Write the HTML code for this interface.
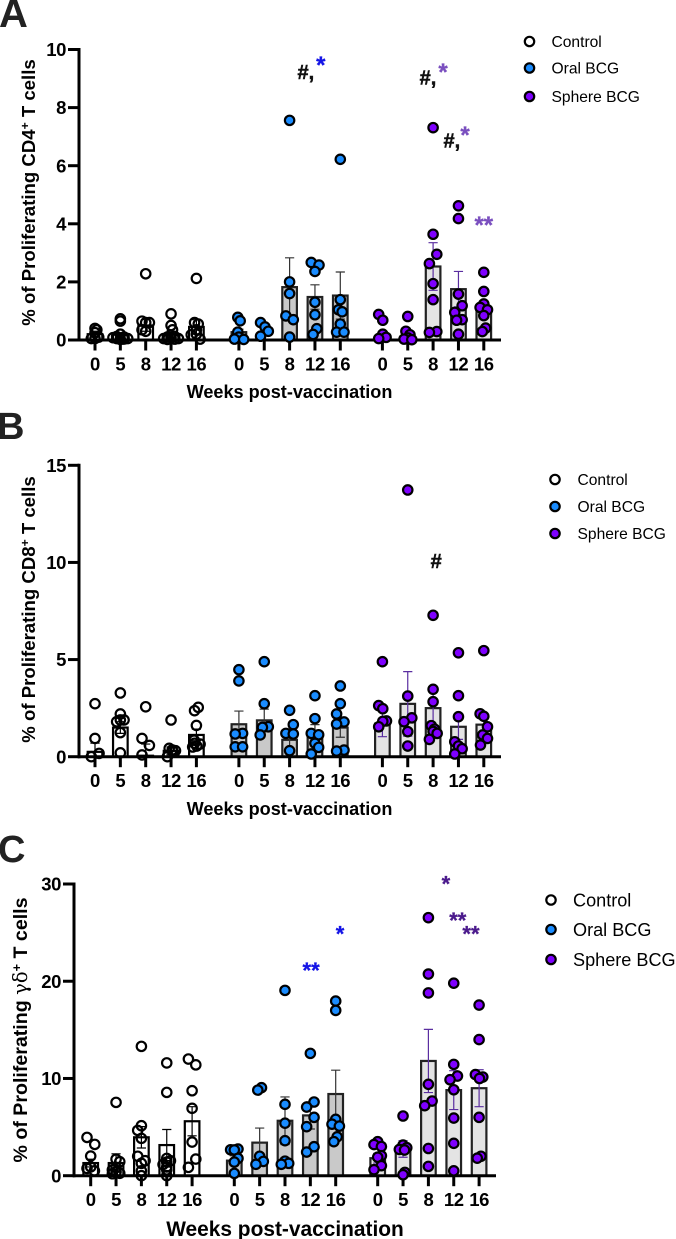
<!DOCTYPE html>
<html lang="en">
<head>
<meta charset="utf-8">
<title>Proliferating T cells after BCG vaccination</title>
<style>
html,body{margin:0;padding:0;background:#fff;width:676px;height:1239px;overflow:hidden}
svg{display:block}
text{font-family:"Liberation Sans",Arial,sans-serif}
</style>
</head>
<body>
<svg id="figure" xmlns="http://www.w3.org/2000/svg" width="676" height="1239" viewBox="0 0 676 1239"></svg>
<script>
const weekLabels = ['0','5','8','12','16'];
const groupNames = ['Control','Oral BCG','Sphere BCG'];

/* Panel A: CD4 */
const aTicks = [0,2,4,6,8,10];
const aControlValues = [[0.4,0.35,0.25,0.1,0.05,0.05],[0.73,0.65,0.2,0.12,0.1,0.08,0.05,0.05,0.03,0.02],[2.28,0.65,0.6,0.6,0.35,0.3],[0.9,0.5,0.35,0.12,0.1,0.08,0.05,0.05,0.03,0.02],[2.12,0.6,0.55,0.35,0.2,0.18,0.03]];
const aControlDodge = [[0,0.5,0,1,-1,0],[0,0,0,-1,1,-2,2,-1,1,0],[0,-1,1,0,-1,0],[0,0,0.4,1,-1,0,-2,2,1,-1],[0,-0.5,0.5,0,0,-1.4,1]];
const aControlMeans = [0.2,0.2,0.5,0.2,0.45];
const aControlSem = [0.1,0.05,0.2,0.1,0.25];
const aOralValues = [[0.78,0.66,0.27,0.1,0.03,0.02],[0.6,0.45,0.3,0.13],[7.56,2.0,1.6,0.83,0.7,0.1],[2.67,2.58,2.36,1.3,0.87,0.39,0.19],[6.22,1.39,1.04,0.97,0.55,0.27,0.27]];
const aOralDodge = [[-0.3,0.35,-0.3,0,-1.2,1.3],[-1,0.2,1.1,-1],[0,0,0,-1,1,0],[-1,1.1,0,0,0,0.5,-0.5],[0,0,-0.5,0.5,0,-1,1]];
const aOralMeans = [0.27,0,1.82,1.48,1.53];
const aOralSem = [0.1,0,1.01,0.42,0.81];
const aSphereValues = [[0.88,0.68,0.2,0.09,0.05],[0.81,0.3,0.18,0.07,0.03,0.01],[7.31,3.64,2.95,2.63,1.94,1.39,0.29,0.26],[4.62,4.18,1.58,1.18,0.95,0.7,0.68,0.2],[2.33,1.67,1.24,1.12,1.04,0.84,0.41,0.29]];
const aSphereDodge = [[-1,0.1,0.1,1,-1],[0,-0.5,0.6,0,-1,1.1],[0,0,1,-1,0,0,1,-1],[0,0,0,1,-1,1,-0.5,0],[0,0,0,-1,1,0,0.5,-0.4]];
const aSphereMeans = [0,0,2.53,1.75,1.05];
const aSphereSem = [0,0,0.82,0.61,0.25];
const aNoteGroups = [1,1,2,2,2,2,2];
const aNoteCats = [2.64,3.23,1.8,2.39,2.74,3.26,4.0];
const aNoteValues = [9.23,9.6,9.05,9.36,6.88,7.19,4.1];
const aNoteLabels = ['#,','*','#,','*','#,','*','**'];
const aNoteColors = ['#111','#1414e6','#111','#7a4fbf','#111','#7a4fbf','#7a4fbf'];

/* Panel B: CD8 */
const bTicks = [0,5,10,15];
const bControlValues = [[2.73,0.94,0.17,0],[3.28,2.2,1.89,1.89,1.8,1.24,0.2],[2.57,0.94,0.58,0.09],[1.89,0.43,0.35,0.31,0.28,0],[2.54,2.37,1.61,0.85,0.69,0.65,0.55,0.5]];
const bControlDodge = [[0,0,1.1,-1],[0,0,1,0,-1,0,0],[0,-1,1,-1],[0,-0.5,0.3,1.2,0.5,-1],[0.5,-0.5,0,-0.6,-0.5,1,0.1,-1]];
const bControlMeans = [0.25,1.5,0.05,0.3,1.12];
const bControlSem = [0.45,0.3,0.6,0.2,0.3];
const bOralValues = [[4.48,3.9,1.2,1.17,0.51,0.51],[4.89,2.73,1.54,1.51,1.12],[2.39,1.65,1.2,1.17,0.31],[3.14,1.96,1.2,1.13,0.69,0.48,0.14],[3.64,2.73,2.2,1.79,1.68,0.34,0.29]];
const bOralDodge = [[0,0,1,-1,-1,1],[0,0,1.1,-0.5,-1.1],[0,1,-1,1,0],[0,0,-1,1,0,1,-1],[0,0,-1,1,-1,1,-1]];
const bOralMeans = [1.67,1.87,0.87,1.26,1.5];
const bOralSem = [0.68,0.58,0.4,0.39,0.5];
const bSphereValues = [[4.89,2.63,2.47,1.84,1.82,1.54],[13.73,3.12,2.0,1.8,1.29,0.55],[7.28,3.47,2.83,1.6,1.42,1.3,1.2,0.89],[5.35,3.14,2.06,0.77,0.55,0.41,0.14],[5.46,2.21,2.08,1.54,1.12,0.94,0.6]];
const bSphereDodge = [[0,-1,0.1,1.1,0.1,-1],[0,0,1.1,-1,0,0],[0,0,0,-0.5,0.4,0,1.1,-1],[0,0,0,-1,0,1,-1],[0,-1,0,1,-0.3,1,-0.9]];
const bSphereMeans = [1.7,2.72,2.5,1.54,1.65];
const bSphereSem = [0.67,1.66,0.9,0.65,0.5];
const bNoteGroups = [2];
const bNoteCats = [2.12];
const bNoteValues = [10.08];
const bNoteLabels = ['#'];
const bNoteColors = ['#111'];

/* Panel C: gamma-delta */
const cTicks = [0,10,20,30];
const cControlValues = [[3.94,3.22,2.02,0.9,0.75,0.5],[7.54,1.7,1.44,0.85,0.6,0.4,0.25,0.2],[13.3,5.14,4.66,3.84,2.0,1.54,1.27,0.5,0],[11.6,8.57,1.78,1.54,1.4,1.15,0.9,0.6,0],[12,11.4,8.74,6.93,3.46,1.71,0.86]];
const cControlDodge = [[-1,1.1,0,0,-1,1],[0,0,1,0,-1,0,1,-1],[0,0,-1,0,-1,1,0,0,0],[0,0,0,1,0,-1,0,0,0],[-1,1,0,0,0,1,-1]];
const cControlMeans = [1.3,1.3,3.95,3.15,5.6];
const cControlSem = [0.4,0.95,1.1,1.6,1.5];
const cOralValues = [[2.74,2.67,2.65,1.78,1.4,0.24],[9.05,8.8,2.0,1.47,1.17],[19.06,7.34,5.4,3.6,1.5,1.27,1.17],[12.58,7.58,7.06,6.0,5.04,2.98,2.43],[17.96,17.0,5.8,5.3,5.1,4.0,3.5]];
const cOralDodge = [[1,-1,0,1,0,0],[0.5,-0.5,0,1,-1],[0,0,0,0,0,1,-1],[0,1,-1,1,-1,1,-1],[0,0,0,-1,1,0.4,-0.5]];
const cOralMeans = [1.55,3.4,5.65,6.2,8.4];
const cOralSem = [0.5,1.5,2.45,1.4,2.45];
const cSphereValues = [[3.5,3.2,3.0,2.06,1.9,1.03,0.62],[6.14,3.15,2.88,2.7,2.64,0.34,0.1],[26.54,20.74,18.8,9.4,7.68,7.2,2.8,0.96],[19.8,11.45,10.25,9.87,8.84,5.93,3.33,0.5],[17.55,14.0,10.4,10.15,10.0,6.0,2.0,1.8]];
const cSphereDodge = [[0,-1,1,1,0,1,-1],[0,0,1,-1,0.4,0.5,0],[0,0,0,0,1,-1,0,0],[0,0,1,-1,0,0,0,0],[0,0,-1,1,0.1,0,0.5,-0.5]];
const cSphereMeans = [1.8,2.75,11.8,8.8,9];
const cSphereSem = [0.5,0.85,3.25,2.0,1.9];
const cNoteGroups = [1,1,2,2,2];
const cNoteCats = [3.03,4.17,2.69,3.16,3.68];
const cNoteValues = [21.47,25.2,30.35,26.6,25.2];
const cNoteLabels = ['**','*','*','**','**'];
const cNoteColors = ['#1414e6','#1414e6','#4b1a8c','#4b1a8c','#4b1a8c'];

const NS = 'http://www.w3.org/2000/svg';
const root = document.getElementById('figure');

function make(tag, attrs, parent, txt) {
  const el = document.createElementNS(NS, tag);
  for (const k in attrs) el.setAttribute(k, attrs[k]);
  if (txt !== undefined) el.textContent = txt;
  (parent || root).appendChild(el);
  return el;
}

const fills = ['none','#1a8cff','#7f00ff'];
const legendFills = ['#fff','#1a8cff','#7f00ff'];
const barFills = ['#fff','#c9c9c9','#e4e4e4'];
const barStrokes = ['#000','#222','#222'];
const errColors = ['#000','#333','#5a2ea0'];

function drawPanel(p) {
  const g = make('g', {});
  
  

  const y = v => p.y0 - (v - 0) * (p.y0 - p.yTop) / p.yMax;
  const x = (grp, cat) => p.groupStart[grp] + cat * p.step;

  const letter = make('text', {x: p.letterX, y: p.letterY, 'font-size': p.letterSize, 'font-weight': 700, fill: '#222'}, g, p.letter);
  
  

  // bars + error bars
  p.series.forEach((s, gi) => {
    s.means.forEach((m, ci) => {
      const cx = x(gi, ci);
      if (m > 0) {
        const bar = make('rect', {x: cx - 7.3, y: y(m), width: 14.6, height: p.y0 - y(m), fill: barFills[gi], stroke: barStrokes[gi], 'stroke-width': 2.2}, g);
        
        
      }
      if (s.sem[ci] > 0) {
        const top = y(m + s.sem[ci]);
        const bot = y(Math.max(m - s.sem[ci], 0));
        const err = make('path', {d: 'M' + cx + ' ' + top + 'V' + bot + 'M' + (cx - 4.6) + ' ' + top + 'H' + (cx + 4.6) + 'M' + (cx - 4.6) + ' ' + bot + 'H' + (cx + 4.6), stroke: errColors[gi], 'stroke-width': 1.2, fill: 'none'}, g);
        
        
      }
    });
  });

  // axes
  const xAxis = make('line', {x1: p.axisX - 1, x2: p.axisEnd, y1: p.y0, y2: p.y0, stroke: '#000', 'stroke-width': 3}, g);
  
  
  const yAxis = make('line', {x1: p.axisX, x2: p.axisX, y1: p.yTop - 1.5, y2: p.y0 + 1.5, stroke: '#000', 'stroke-width': 3}, g);
  
  

  p.ticks.forEach(t => {
    const tick = make('line', {x1: p.axisX - 11, x2: p.axisX, y1: y(t), y2: y(t), stroke: '#000', 'stroke-width': 3}, g);
    
    
    const lab = make('text', {x: p.axisX - 13, y: y(t) + 6.6, 'text-anchor': 'end', 'font-size': 18.5, 'letter-spacing': -0.4, 'font-weight': 700, fill: '#000'}, g, String(t));
    
    
  });

  p.series.forEach((s, gi) => {
    weekLabels.forEach((w, ci) => {
      const cx = x(gi, ci);
      const tick = make('line', {x1: cx, x2: cx, y1: p.y0, y2: p.y0 + 10.5, stroke: '#000', 'stroke-width': 3}, g);
      
      
      const lab = make('text', {x: cx, y: p.y0 + 30.5, 'text-anchor': 'middle', 'font-size': 18.5, 'letter-spacing': -0.4, 'font-weight': 700, fill: '#000'}, g, w);
      
      
    });
  });

  // points
  p.series.forEach((s, gi) => {
    s.values.forEach((vals, ci) => {
      vals.forEach((v, i) => {
        const cx = x(gi, ci) + (s.dodge[ci][i] || 0) * 3.7;
        const dot = make('circle', {cx: cx, cy: y(v), r: 4.7, fill: fills[gi], stroke: '#000', 'stroke-width': 2.2}, g);
        
        
      });
    });
  });

  // annotations
  p.noteLabels.forEach((lab, i) => {
    const isStar = lab.charAt(0) === '*';
    const size = isStar ? p.starSize : 20;
    const nx = x(p.noteGroups[i], p.noteCats[i]);
    const ny = y(p.noteValues[i]) + (isStar ? size * 0.5 : size * 0.36);
    const note = make('text', {x: nx, y: ny, 'text-anchor': 'middle', 'font-size': size, 'font-weight': 700, stroke: p.noteColors[i], 'stroke-width': lab.charAt(0) === '#' ? 0.5 : 0.3, fill: p.noteColors[i]}, g, lab);
    
    
  });

  // titles
  const xt = make('text', {x: p.xTitleX, y: p.xTitleY, 'text-anchor': 'middle', 'font-size': p.xTitleSize, 'font-weight': 700, fill: '#000'}, g, 'Weeks post-vaccination');
  
  

  const yt = make('text', {transform: 'translate(' + p.yTitleX + ' ' + p.yTitleY + ') rotate(-90)', 'text-anchor': 'middle', 'font-size': p.yTitleSize, 'font-weight': 700, fill: '#000'}, g);
  
  
  make('tspan', {}, yt, '% of Proliferating ');
  if (p.greek) {
    make('tspan', {style: 'font-family:"DejaVu Serif","Liberation Serif",serif;font-weight:400'}, yt, p.cell);
  } else {
    make('tspan', {}, yt, p.cell);
  }
  make('tspan', {dy: -6, 'font-size': p.yTitleSize * 0.65}, yt, '+');
  make('tspan', {dy: 6}, yt, ' T cells');

  // legend
  groupNames.forEach((n, i) => {
    const item = make('g', {}, g);
    
    
    make('circle', {cx: p.legendX, cy: p.legendY[i], r: 4.7, fill: legendFills[i], stroke: '#000', 'stroke-width': 2.2}, item);
    make('text', {x: p.legendTextX, y: p.legendY[i] + p.legendSize * 0.36, 'font-size': p.legendSize, fill: '#000'}, item, n);
  });
}

drawPanel({
  key: 'cd4', letter: 'A', letterX: -1, letterY: 27, letterSize: 40,
  y0: 340, yTop: 49.5, yMax: 10, axisX: 79, axisEnd: 501, step: 25.35,
  groupStart: [95, 238.9, 382.4], ticks: aTicks,
  series: [
    {id: 'control', values: aControlValues, dodge: aControlDodge, means: aControlMeans, sem: aControlSem},
    {id: 'oral', values: aOralValues, dodge: aOralDodge, means: aOralMeans, sem: aOralSem},
    {id: 'sphere', values: aSphereValues, dodge: aSphereDodge, means: aSphereMeans, sem: aSphereSem}
  ],
  noteGroups: aNoteGroups, noteCats: aNoteCats, noteValues: aNoteValues, noteLabels: aNoteLabels, noteColors: aNoteColors, starSize: 24,
  xTitleX: 289.5, xTitleY: 398, xTitleSize: 18.1,
  yTitleX: 35, yTitleY: 192.5, yTitleSize: 18.6, cell: 'CD4',
  legendX: 529.5, legendY: [41.5, 68, 96.5], legendTextX: 551.5, legendSize: 15.6
});

drawPanel({
  key: 'cd8', letter: 'B', letterX: -3, letterY: 439, letterSize: 38,
  y0: 756.7, yTop: 465.3, yMax: 15, axisX: 79, axisEnd: 501, step: 25.35,
  groupStart: [95, 238.9, 382.4], ticks: bTicks,
  series: [
    {id: 'control', values: bControlValues, dodge: bControlDodge, means: bControlMeans, sem: bControlSem},
    {id: 'oral', values: bOralValues, dodge: bOralDodge, means: bOralMeans, sem: bOralSem},
    {id: 'sphere', values: bSphereValues, dodge: bSphereDodge, means: bSphereMeans, sem: bSphereSem}
  ],
  noteGroups: bNoteGroups, noteCats: bNoteCats, noteValues: bNoteValues, noteLabels: bNoteLabels, noteColors: bNoteColors, starSize: 24,
  xTitleX: 289.5, xTitleY: 815, xTitleSize: 18.1,
  yTitleX: 35, yTitleY: 609.5, yTitleSize: 18.6, cell: 'CD8',
  legendX: 555, legendY: [479.5, 506.5, 533.5], legendTextX: 577.5, legendSize: 15.6
});

drawPanel({
  key: 'gamma-delta', letter: 'C', letterX: -2, letterY: 862, letterSize: 38,
  y0: 1175.7, yTop: 884, yMax: 30, axisX: 74, axisEnd: 496, step: 25.35,
  groupStart: [90.7, 234.3, 377.7], ticks: cTicks,
  series: [
    {id: 'control', values: cControlValues, dodge: cControlDodge, means: cControlMeans, sem: cControlSem},
    {id: 'oral', values: cOralValues, dodge: cOralDodge, means: cOralMeans, sem: cOralSem},
    {id: 'sphere', values: cSphereValues, dodge: cSphereDodge, means: cSphereMeans, sem: cSphereSem}
  ],
  noteGroups: cNoteGroups, noteCats: cNoteCats, noteValues: cNoteValues, noteLabels: cNoteLabels, noteColors: cNoteColors, starSize: 22,
  xTitleX: 285, xTitleY: 1236, xTitleSize: 20.9,
  yTitleX: 27, yTitleY: 1030, yTitleSize: 19.6, greek: true, cell: 'γδ',
  legendX: 551, legendY: [900, 929.5, 959.5], legendTextX: 573, legendSize: 18.1
});
</script>
</body>
</html>
